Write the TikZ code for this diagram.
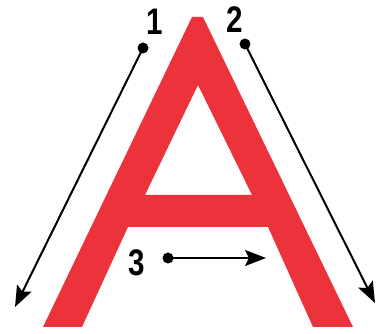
\documentclass[tikz,border=0pt]{standalone}
\usepackage{fontspec}
\setmainfont{Liberation Sans}
\usetikzlibrary{arrows.meta}
\definecolor{letterred}{RGB}{236,50,58}
\begin{document}
\begin{tikzpicture}[
    x=1pt, y=-1pt,
    dot/.style={circle, fill=black, inner sep=0pt, minimum size=11pt},
    num/.style={font=\fontsize{37}{37}\selectfont\bfseries, inner sep=0pt, xscale=0.8},
    arr/.style={-{Stealth[length=21pt, width=16pt, inset=4pt]}, line width=2pt}
  ]
    \useasboundingbox (0,0) rectangle (376,334);
    % the letter
    \fill[letterred, even odd rule]
      (192,17) -- (203,17) -- (353,327) -- (313,327) -- (268,227) -- (128,227)
      -- (82,327) -- (43,327) -- cycle
      (198,85) -- (252,195) -- (145,195) -- cycle;
    % stroke order
    \node[dot] (s1) at (143,48) {};
    \node[dot] (s2) at (245,44) {};
    \node[dot] (s3) at (168,258) {};
    \coordinate (e1) at (15,307);
    \coordinate (e2) at (375,303);
    \coordinate (e3) at (266,258);
    \node[num] (n1) at (155,22) {1};
    \node[num] (n2) at (235,20) {2};
    \node[num] (n3) at (137,263) {3};
    \draw[arr] (s1.center) -- (e1);
    \draw[arr] (s2.center) -- (e2);
    \draw[arr] (s3.center) -- (e3);
  \end{tikzpicture}
\end{document}
